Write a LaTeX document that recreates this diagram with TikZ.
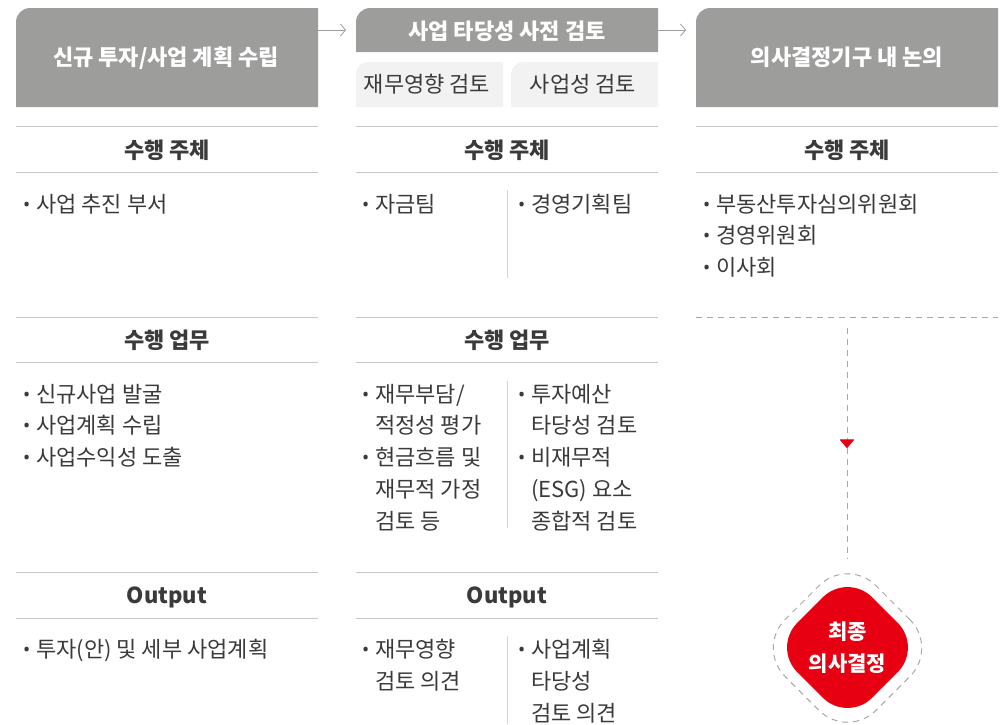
\documentclass[tikz,border=0pt]{standalone}
\usepackage{fontspec}
\setmainfont{Noto Sans CJK KR}
\newfontfamily\latinfont{Noto Sans}
\usetikzlibrary{arrows.meta,shapes.geometric}
\definecolor{hgray}{HTML}{9D9E9C}
\definecolor{subgray}{HTML}{F2F2F2}
\definecolor{rulegray}{HTML}{C6C6C6}
\definecolor{sepgray}{HTML}{D6D6D6}
\definecolor{txt}{HTML}{3A3A3A}
\definecolor{dred}{HTML}{E60012}
\definecolor{dashgray}{HTML}{A8A8A8}
\newcommand{\bu}{\makebox[13pt][l]{\raisebox{1pt}{\latinfont\fontsize{19}{19}\selectfont •}}}
\begin{document}
\begin{tikzpicture}[x=1pt,y=-1pt,
  body/.style={anchor=base west, inner sep=0pt, text=txt, font=\fontsize{22}{26}\selectfont},
  sectitle/.style={anchor=base, inner sep=0pt, text=txt, font=\bfseries\fontsize{22}{26}\selectfont},
  hdrtext/.style={anchor=base, inner sep=0pt, text=white, font=\bfseries\fontsize{22}{26}\selectfont},
  subtext/.style={anchor=base, inner sep=0pt, text=txt, font=\fontsize{22}{26}\selectfont},
  rule/.style={draw=rulegray, line width=1pt},
  sepline/.style={draw=sepgray, line width=1pt},
  flow/.style={draw=hgray, line width=0.8pt, -{Straight Barb[length=5pt,width=12pt]}},
  dashline/.style={draw=dashgray, line width=1pt, dash pattern=on 6pt off 5pt},
]
\useasboundingbox (0,0) rectangle (1005,724);

% ---------- header backgrounds (rounded top-left corner) ----------
\fill[hgray] (16,107) -- (16,22) .. controls (16,14.3) and (22.3,8) .. (30,8) -- (318,8) -- (318,107) -- cycle;
\fill[hgray] (356,52) -- (356,22) .. controls (356,14.3) and (362.3,8) .. (370,8) -- (658,8) -- (658,52) -- cycle;
\fill[subgray] (356,107) -- (356,74) .. controls (356,67.4) and (361.4,62) .. (368,62) -- (503,62) -- (503,107) -- cycle;
\fill[subgray] (511,107) -- (511,74) .. controls (511,67.4) and (516.4,62) .. (523,62) -- (658,62) -- (658,107) -- cycle;
\fill[hgray] (696,107) -- (696,22) .. controls (696,14.3) and (702.3,8) .. (710,8) -- (998,8) -- (998,107) -- cycle;

\node[hdrtext] (h1) at (166,65) {신규 투자/사업 계획 수립};
\node[hdrtext] (h2) at (507,39) {사업 타당성 사전 검토};
\node[subtext] (h2a) at (427,92) {재무영향 검토};
\node[subtext] (h2b) at (583,92) {사업성 검토};
\node[hdrtext] (h3) at (847,65) {의사결정기구 내 논의};

% ---------- flow arrows ----------
\coordinate (a1s) at (318,30); \coordinate (a1e) at (346,30);
\coordinate (a2s) at (658,30); \coordinate (a2e) at (686,30);
\draw[flow] (a1s) -- (a1e);
\draw[flow] (a2s) -- (a2e);

% ---------- section rules ----------
\foreach \xa/\xb in {16/318, 356/658, 696/998} {
  \draw[rule] (\xa,126) -- (\xb,126);
  \draw[rule] (\xa,172) -- (\xb,172);
}
\foreach \xa/\xb in {16/318, 356/658} {
  \draw[rule] (\xa,317) -- (\xb,317);
  \draw[rule] (\xa,362) -- (\xb,362);
  \draw[rule] (\xa,572) -- (\xb,572);
  \draw[rule] (\xa,618) -- (\xb,618);
}
\draw[sepline] (507,190) -- (507,278);
\draw[sepline] (507,381) -- (507,528);
\draw[sepline] (507,636) -- (507,724);

% ---------- section titles ----------
\node[sectitle] (t11) at (167,158) {수행 주체};
\node[sectitle] (t21) at (507,158) {수행 주체};
\node[sectitle] (t31) at (847,158) {수행 주체};
\node[sectitle] (t12) at (167,348) {수행 업무};
\node[sectitle] (t22) at (507,348) {수행 업무};
\node[sectitle] (t13) at (167,603) {Output};
\node[sectitle] (t23) at (507,603) {Output};

% ---------- column 1 body ----------
\node[body] (c1a) at (23,212) {\bu 사업 추진 부서};
\node[body] (c1b) at (23,402) {\bu 신규사업 발굴};
\node[body] (c1c) at (23,433) {\bu 사업계획 수립};
\node[body] (c1d) at (23,465) {\bu 사업수익성 도출};
\node[body] (c1e) at (23,657) {\bu 투자(안) 및 세부 사업계획};

% ---------- column 2 body ----------
\node[body] (c2a) at (362,212) {\bu 자금팀};
\node[body] (c2b) at (518,212) {\bu 경영기획팀};

\node[body] (c2c) at (362,402) {\bu 재무부담/};
\node[body] (c2d) at (375,433) {적정성 평가};
\node[body] (c2e) at (362,465) {\bu 현금흐름 및};
\node[body] (c2f) at (375,497) {재무적 가정};
\node[body] (c2g) at (375,529) {검토 등};

\node[body] (c2h) at (518,402) {\bu 투자예산};
\node[body] (c2i) at (531,433) {타당성 검토};
\node[body] (c2j) at (518,465) {\bu 비재무적};
\node[body] (c2k) at (531,497) {(ESG) 요소};
\node[body] (c2l) at (531,529) {종합적 검토};

\node[body] (c2m) at (362,657) {\bu 재무영향};
\node[body] (c2n) at (375,689) {검토 의견};
\node[body] (c2o) at (518,657) {\bu 사업계획};
\node[body] (c2p) at (531,689) {타당성};
\node[body] (c2q) at (531,721) {검토 의견};

% ---------- column 3 body ----------
\node[body] (c3a) at (703,212) {\bu 부동산투자심의위원회};
\node[body] (c3b) at (703,243) {\bu 경영위원회};
\node[body] (c3c) at (703,275) {\bu 이사회};

\draw[dashline] (696,317) -- (998,317);

% ---------- final decision ----------
\node[diamond, aspect=1, minimum width=150pt, minimum height=150pt, inner sep=0pt,
      rounded corners=35pt, fill=dred] (fin) at (847.5,647.5) {};
\node[diamond, aspect=1, minimum width=182pt, minimum height=182pt, inner sep=0pt,
      rounded corners=40pt, draw=dashgray, line width=1pt, dash pattern=on 6pt off 5pt] (finout) at (847.5,648) {};
\node[align=center, text=white, inner sep=0pt, font=\bfseries\fontsize{21}{32}\selectfont] (fintext) at (847.5,648) {최종\\의사결정};

\coordinate (vtop) at (847,328);
\coordinate (vmid) at (847,448);
\coordinate (vbot) at (847,559);
\draw[dashline, -{Triangle[length=9pt,width=15pt,color=dred,round]}] (vtop) -- (vmid);
\draw[dashline] (vmid) -- (vbot);
\end{tikzpicture}
\end{document}
